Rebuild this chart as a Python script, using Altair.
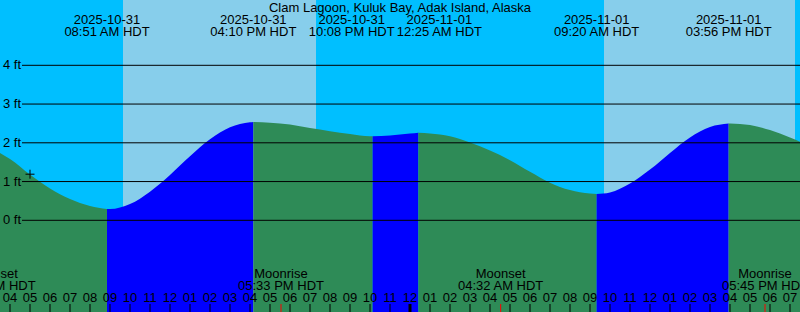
import altair as alt
import pandas as pd

# ---------------- data ----------------
TITLE = ["Clam Lagoon, Kuluk Bay, Adak Island, Alaska"]

# time axis: hours after 2025-10-31 04:00 HDT
X_MIN, X_MAX = -0.5, 39.5
Y_MIN, Y_MAX = -2.366, 5.685

# tide curve, one list per ebb/flood segment (hours, feet)
seg_phase = ["ebb", "flood", "ebb", "flood", "ebb", "flood", "ebb"]
seg_hours = [
    [-0.5, 0, 1, 2, 3, 4, 4.85],
    [4.85, 5, 6, 7, 8, 9, 10, 11, 12, 12.167],
    [12.167, 13, 14, 15, 16, 17, 18, 18.133],
    [18.133, 19, 20, 20.417],
    [20.417, 21, 22, 23, 24, 25, 26, 27, 28, 29, 29.333],
    [29.333, 30, 31, 32, 33, 34, 35, 35.933],
    [35.933, 36, 37, 38, 39, 39.5],
]
seg_feet = [
    [1.74, 1.58, 1.18, 0.82, 0.55, 0.37, 0.29],
    [0.29, 0.29, 0.42, 0.74, 1.17, 1.65, 2.09, 2.40, 2.53, 2.54],
    [2.54, 2.52, 2.47, 2.38, 2.30, 2.23, 2.17, 2.17],
    [2.17, 2.19, 2.24, 2.26],
    [2.26, 2.24, 2.17, 2.01, 1.80, 1.55, 1.25, 0.97, 0.78, 0.69, 0.68],
    [0.68, 0.72, 0.95, 1.31, 1.74, 2.14, 2.41, 2.50],
    [2.50, 2.50, 2.46, 2.33, 2.14, 2.03],
]

# daylight / night bands
band_start = [-0.5, 5.65, 15.3, 29.7, 39.25]
band_end = [5.65, 15.3, 29.7, 39.25, 39.5]
band_kind = ["night", "day", "night", "day", "night"]

# tide events (top labels)
event_hours = [4.85, 12.167, 18.133, 20.417, 29.333, 35.933]
event_dates = ["2025-10-31", "2025-10-31", "2025-10-31", "2025-11-01", "2025-11-01", "2025-11-01"]
event_times = ["08:51 AM HDT", "04:10 PM HDT", "10:08 PM HDT", "12:25 AM HDT", "09:20 AM HDT", "03:56 PM HDT"]
event_nudge = ["none", "none", "left", "right", "none", "none"]

# moon events (bottom labels)
moon_hours = [-0.85, 13.55, 24.533, 37.75]
moon_names = ["Moonset", "Moonrise", "Moonset", "Moonrise"]
moon_times = ["03:09 AM HDT", "05:33 PM HDT", "04:32 AM HDT", "05:45 PM HDT"]

# gridlines
grid_ft = [0, 1, 2, 3, 4]
grid_labels = ["0 ft", "1 ft", "2 ft", "3 ft", "4 ft"]

# hour ticks
tick_hours = list(range(0, 40))
tick_labels = ["04", "05", "06", "07", "08", "09", "10", "11", "12", "01",
               "02", "03", "04", "05", "06", "07", "08", "09", "10", "11",
               "12", "01", "02", "03", "04", "05", "06", "07", "08", "09",
               "10", "11", "12", "01", "02", "03", "04", "05", "06", "07"]
midnight_hours = [20]

# current-time marker
now_hours = [1]
now_feet = [1.19]

# ---------------- tables ----------------
rows = []
for i, (ph, hs, fs) in enumerate(zip(seg_phase, seg_hours, seg_feet)):
    for h, f in zip(hs, fs):
        rows.append({"seg": i, "phase": ph, "h": h, "ft": f, "base": Y_MIN})
tide_df = pd.DataFrame(rows)
band_df = pd.DataFrame({"s": band_start, "e": band_end, "kind": band_kind})
event_df = pd.DataFrame({"h": event_hours, "date": event_dates, "time": event_times, "nudge": event_nudge})
moon_df = pd.DataFrame({"h": moon_hours, "name": moon_names, "time": moon_times})
grid_df = pd.DataFrame({"ft": grid_ft, "label": grid_labels})
tick_df = pd.DataFrame({"h": tick_hours, "label": tick_labels})
mid_df = pd.DataFrame({"h": midnight_hours})
now_df = pd.DataFrame({"h": now_hours, "ft": now_feet})
title_df = pd.DataFrame({"t": TITLE})

FONT = "Liberation Sans"
FS = 13
xs = alt.Scale(domain=[X_MIN, X_MAX], nice=False, zero=False)
ys = alt.Scale(domain=[Y_MIN, Y_MAX], nice=False, zero=False)

bands = alt.Chart(band_df).mark_rect().encode(
    x=alt.X("s:Q", scale=xs, axis=None),
    x2="e:Q",
    y=alt.value(0),
    y2=alt.value(312),
    color=alt.Color("kind:N", scale=alt.Scale(domain=["night", "day"], range=["#00BFFF", "#87CEEB"]), legend=None),
)

tide = alt.Chart(tide_df).mark_area(interpolate="monotone").encode(
    x=alt.X("h:Q", scale=xs, axis=None),
    y=alt.Y("ft:Q", scale=ys, axis=None, stack=None),
    y2="base:Q",
    color=alt.Color("phase:N", scale=alt.Scale(domain=["ebb", "flood"], range=["#2E8B57", "#0000FF"]), legend=None),
    detail="seg:N",
)

grid = alt.Chart(grid_df).mark_rule(color="black", strokeWidth=1).encode(
    y=alt.Y("ft:Q", scale=ys, axis=None),
    x=alt.value(22),
    x2=alt.value(800),
)
grid_text = alt.Chart(grid_df).mark_text(align="left", baseline="alphabetic", dy=4, font=FONT, fontSize=FS, color="black").encode(
    y=alt.Y("ft:Q", scale=ys, axis=None),
    x=alt.value(3),
    text="label:N",
)

ticks = alt.Chart(tick_df).mark_rule(color="black", strokeWidth=1).encode(
    x=alt.X("h:Q", scale=xs, axis=None),
    y=alt.value(304),
    y2=alt.value(312),
)
tick_text = alt.Chart(tick_df).mark_text(align="center", baseline="alphabetic", font=FONT, fontSize=FS, color="black").encode(
    x=alt.X("h:Q", scale=xs, axis=None),
    y=alt.value(302),
    text="label:N",
)
mid_tick = alt.Chart(mid_df).mark_rule(color="black", strokeWidth=3).encode(
    x=alt.X("h:Q", scale=xs, axis=None),
    y=alt.value(304),
    y2=alt.value(312),
)
moon_ticks = alt.Chart(moon_df).mark_rule(color="#FF0000", strokeWidth=1).encode(
    x=alt.X("h:Q", scale=xs, axis=None),
    y=alt.value(304),
    y2=alt.value(312),
)
moon_name = alt.Chart(moon_df).mark_text(align="center", baseline="alphabetic", font=FONT, fontSize=FS, color="black").encode(
    x=alt.X("h:Q", scale=xs, axis=None),
    y=alt.value(278),
    text="name:N",
)
moon_time = alt.Chart(moon_df).mark_text(align="center", baseline="alphabetic", font=FONT, fontSize=FS, color="black").encode(
    x=alt.X("h:Q", scale=xs, axis=None),
    y=alt.value(290),
    text="time:N",
)


def event_layers(nudge, dx):
    base = alt.Chart(event_df).transform_filter(alt.datum.nudge == nudge)
    d = base.mark_text(align="center", baseline="alphabetic", font=FONT, fontSize=FS, color="black", dx=dx).encode(
        x=alt.X("h:Q", scale=xs, axis=None), y=alt.value(24), text="date:N")
    t = base.mark_text(align="center", baseline="alphabetic", font=FONT, fontSize=FS, color="black", dx=dx).encode(
        x=alt.X("h:Q", scale=xs, axis=None), y=alt.value(36), text="time:N")
    return [d, t]


ev = event_layers("none", 0) + event_layers("left", -21) + event_layers("right", 21)

title = alt.Chart(title_df).mark_text(align="center", baseline="alphabetic", font=FONT, fontSize=FS, color="black").encode(
    x=alt.value(400),
    y=alt.value(12),
    text="t:N",
)
now_mark = alt.Chart(now_df).mark_point(
    shape="M-1,0L1,0M0,-1L0,1", filled=False, color="black", strokeWidth=1, size=81, opacity=1
).encode(
    x=alt.X("h:Q", scale=xs, axis=None),
    y=alt.Y("ft:Q", scale=ys, axis=None),
)

chart = alt.layer(
    bands, tide, grid, grid_text, ticks, mid_tick, moon_ticks, tick_text,
    moon_name, moon_time, *ev, title, now_mark
).resolve_scale(color="independent").properties(
    width=800, height=312, padding=0, autosize=alt.AutoSizeParams(type="none")
).configure_view(stroke=None)

chart.save("out.html", embed_options={"renderer": "svg", "actions": False})
